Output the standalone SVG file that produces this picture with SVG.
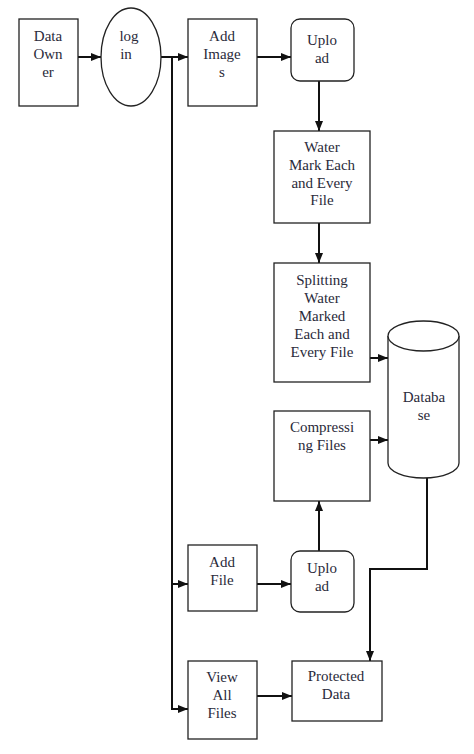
<svg xmlns="http://www.w3.org/2000/svg" width="474" height="754" viewBox="0 0 474 754">
<style>
.b{fill:#fff;stroke:#222;stroke-width:1.3}
.t{font-family:'Liberation Serif','Times New Roman',Times,'DejaVu Serif',serif;font-size:15px;fill:#2a2a3a;text-anchor:middle}
.c{fill:none;stroke:#111;stroke-width:2}
</style>
<defs>
<marker id="ah" markerWidth="10" markerHeight="8" refX="10" refY="4" orient="auto" markerUnits="userSpaceOnUse">
<path d="M0,0 L10,4 L0,8 Z" fill="#111"/>
</marker>
</defs>
<rect width="474" height="754" fill="#fff"/>
<g id="connectors">
<line class="c" x1="78" y1="57" x2="101" y2="57" marker-end="url(#ah)"/>
<line class="c" x1="161" y1="57" x2="188" y2="57" marker-end="url(#ah)"/>
<line class="c" x1="257" y1="57" x2="291" y2="57" marker-end="url(#ah)"/>
<line class="c" x1="319" y1="81" x2="319" y2="131" marker-end="url(#ah)"/>
<line class="c" x1="319" y1="223" x2="319" y2="263" marker-end="url(#ah)"/>
<line class="c" x1="370" y1="358" x2="388" y2="358" marker-end="url(#ah)"/>
<line class="c" x1="370" y1="440" x2="388" y2="440" marker-end="url(#ah)"/>
<line class="c" x1="319" y1="551" x2="319" y2="501" marker-end="url(#ah)"/>
<polyline class="c" points="172,57 172,709 188,709" marker-end="url(#ah)"/>
<line class="c" x1="172" y1="584" x2="188" y2="584" marker-end="url(#ah)"/>
<line class="c" x1="257" y1="584" x2="291" y2="584" marker-end="url(#ah)"/>
<line class="c" x1="257" y1="696" x2="292" y2="696" marker-end="url(#ah)"/>
<polyline class="c" points="427,478 427,569 370,569 370,661" marker-end="url(#ah)"/>
</g>
<g id="data-owner">
<rect class="b" x="19" y="19" width="59" height="87"/>
<text class="t" x="48" y="41">Data</text>
<text class="t" x="48" y="59">Own</text>
<text class="t" x="48" y="77">er</text>
</g>
<g id="login">
<ellipse class="b" cx="131" cy="57" rx="30" ry="49"/>
<text class="t" x="129" y="41">log</text>
<text class="t" x="126" y="59">in</text>
</g>
<g id="add-images">
<rect class="b" x="188" y="19" width="69" height="87"/>
<text class="t" x="222" y="41">Add</text>
<text class="t" x="222" y="59">Image</text>
<text class="t" x="222" y="77">s</text>
</g>
<g id="upload1">
<rect class="b" x="291" y="19" width="63" height="62" rx="9"/>
<text class="t" x="322" y="45">Uplo</text>
<text class="t" x="322" y="63">ad</text>
</g>
<g id="watermark">
<rect class="b" x="274" y="131" width="96" height="92"/>
<text class="t" x="322" y="152">Water</text>
<text class="t" x="322" y="170">Mark Each</text>
<text class="t" x="322" y="188">and Every</text>
<text class="t" x="322" y="205">File</text>
</g>
<g id="splitting">
<rect class="b" x="274" y="263" width="96" height="119"/>
<text class="t" x="322" y="285">Splitting</text>
<text class="t" x="322" y="303">Water</text>
<text class="t" x="322" y="321">Marked</text>
<text class="t" x="322" y="339">Each and</text>
<text class="t" x="322" y="357">Every File</text>
</g>
<g id="database">
<path class="b" d="M388,336 L388,463 A35.5,15 0 0 0 459,463 L459,336"/>
<ellipse class="b" cx="423.5" cy="336" rx="35.5" ry="15"/>
<text class="t" x="424" y="402">Databa</text>
<text class="t" x="424" y="420">se</text>
</g>
<g id="compressing">
<rect class="b" x="274" y="411" width="96" height="90"/>
<text class="t" x="322" y="432">Compressi</text>
<text class="t" x="322" y="450">ng Files</text>
</g>
<g id="add-file">
<rect class="b" x="188" y="545" width="69" height="66"/>
<text class="t" x="222" y="567">Add</text>
<text class="t" x="222" y="585">File</text>
</g>
<g id="upload2">
<rect class="b" x="291" y="551" width="63" height="61" rx="9"/>
<text class="t" x="322" y="573">Uplo</text>
<text class="t" x="322" y="591">ad</text>
</g>
<g id="view-all-files">
<rect class="b" x="188" y="661" width="69" height="78"/>
<text class="t" x="222" y="682">View</text>
<text class="t" x="222" y="700">All</text>
<text class="t" x="222" y="718">Files</text>
</g>
<g id="protected-data">
<rect class="b" x="292" y="661" width="90" height="60"/>
<text class="t" x="336" y="681">Protected</text>
<text class="t" x="336" y="699">Data</text>
</g>
</svg>
